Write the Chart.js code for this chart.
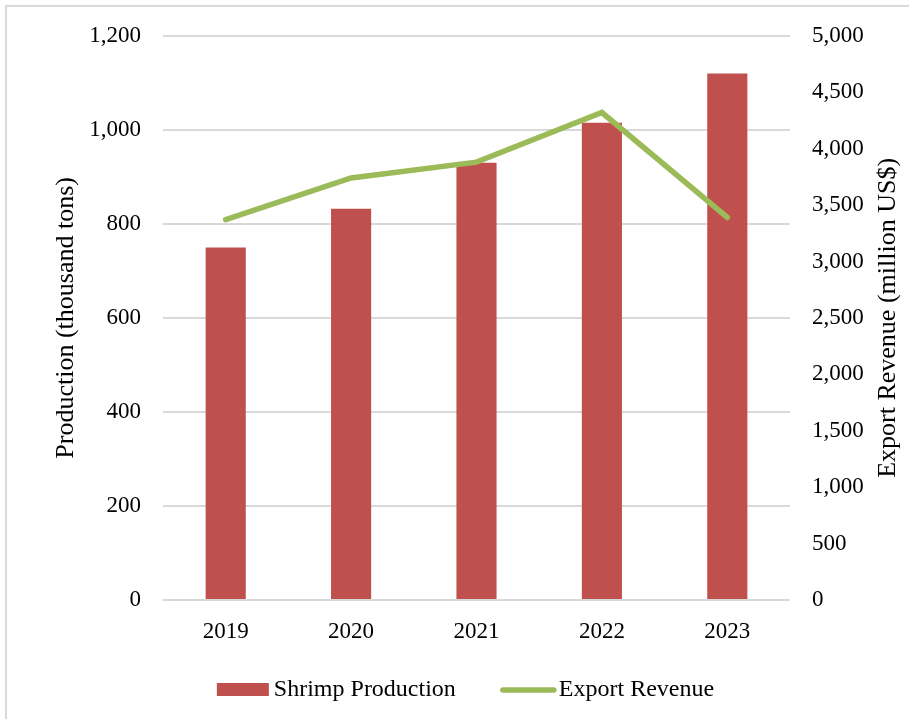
<!DOCTYPE html>
<html>
<head>
<meta charset="utf-8">
<script src="https://cdn.jsdelivr.net/npm/chart.js@4.4.1/dist/chart.umd.min.js"></script>
<style>
  html, body { margin: 0; padding: 0; background: #fff; overflow: hidden; }
  #wrap { position: relative; width: 909px; height: 719px; }
  #frame { position: absolute; left: 5px; top: 5px; width: 1000px; height: 800px;
           border: 2px solid #d9d9d9; box-sizing: border-box; }
  canvas { position: absolute; left: 0; top: 0; }
</style>
</head>
<body>
<div id="wrap">
  <div id="frame"></div>
  <canvas id="shrimpChart" width="909" height="719"></canvas>
</div>
<script>
const years = ["2019", "2020", "2021", "2022", "2023"];
const production = [750, 832, 930, 1015, 1120];      // thousand tons
const exportRevenue = [3370, 3740, 3880, 4320, 3390]; // million US$

const SERIF = "'Liberation Serif', 'Times New Roman', serif";

// axis titles (right one reads bottom-to-top) and the legend underneath
const extras = {
  id: "extras",
  afterDraw(chart) {
    const { ctx, chartArea: a } = chart;
    const midY = (a.top + a.bottom) / 2;
    ctx.save();
    ctx.fillStyle = "#000";
    ctx.font = "26px " + SERIF;
    ctx.textAlign = "center";
    ctx.textBaseline = "middle";
    [[a.left - 97, "Production (thousand tons)"], [a.right + 98, "Export Revenue (million US$)"]].forEach(([x, text]) => {
      ctx.save();
      ctx.translate(x, midY);
      ctx.rotate(-Math.PI / 2);
      ctx.fillText(text, 0, 0);
      ctx.restore();
    });

    // legend
    const ds = chart.data.datasets;
    ctx.font = "24px " + SERIF;
    ctx.textAlign = "left";
    const y = 690;
    const w0 = ctx.measureText(ds[0].label).width;
    const w1 = ctx.measureText(ds[1].label).width;
    const total = 52 + 5 + w0 + 44 + 57 + 2 + w1;
    let x = (a.left + a.right) / 2 - 11 - total / 2;
    ctx.fillStyle = ds[0].backgroundColor;
    ctx.fillRect(x, y - 7, 52, 13);
    ctx.fillStyle = "#000";
    ctx.fillText(ds[0].label, x + 57, y);
    x += 57 + w0 + 44;
    ctx.strokeStyle = ds[1].borderColor;
    ctx.lineWidth = 5.5;
    ctx.lineCap = "round";
    ctx.beginPath();
    ctx.moveTo(x + 3, y);
    ctx.lineTo(x + 54, y);
    ctx.stroke();
    ctx.fillText(ds[1].label, x + 59, y);
    ctx.restore();
  }
};

new Chart(document.getElementById("shrimpChart"), {
  type: "bar",
  data: {
    labels: years,
    datasets: [
      {
        type: "bar",
        label: "Shrimp Production",
        data: production,
        backgroundColor: "#C0504D",
        yAxisID: "y",
        categoryPercentage: 1,
        barPercentage: 0.32,
        order: 2
      },
      {
        type: "line",
        label: "Export Revenue",
        data: exportRevenue,
        borderColor: "#9BBB59",
        backgroundColor: "#9BBB59",
        borderWidth: 5.5,
        borderCapStyle: "round",
        pointRadius: 0,
        tension: 0,
        yAxisID: "y1",
        order: 1
      }
    ]
  },
  options: {
    responsive: false,
    animation: false,
    layout: { padding: { top: 31, left: 0, right: 0, bottom: 0 } },
    plugins: {
      legend: { display: false },
      tooltip: { enabled: false }
    },
    scales: {
      x: {
        grid: { display: false, drawTicks: false },
        border: { display: false },
        ticks: { color: "#000", padding: 18, font: { family: SERIF, size: 23 } },
        afterFit(s) { s.height = 119; }
      },
      y: {
        position: "left",
        min: 0,
        max: 1200,
        ticks: { stepSize: 200, color: "#000", padding: 22, font: { family: SERIF, size: 23 } },
        grid: { color: "#d9d9d9", lineWidth: 2, drawTicks: false },
        border: { display: false },
        afterFit(s) { s.width = 163; }
      },
      y1: {
        position: "right",
        min: 0,
        max: 5000,
        ticks: { stepSize: 500, color: "#000", padding: 22, font: { family: SERIF, size: 23 } },
        grid: { display: false, drawTicks: false },
        border: { display: false },
        afterFit(s) { s.width = 119; }
      }
    }
  },
  plugins: [extras]
});
</script>
</body>
</html>
